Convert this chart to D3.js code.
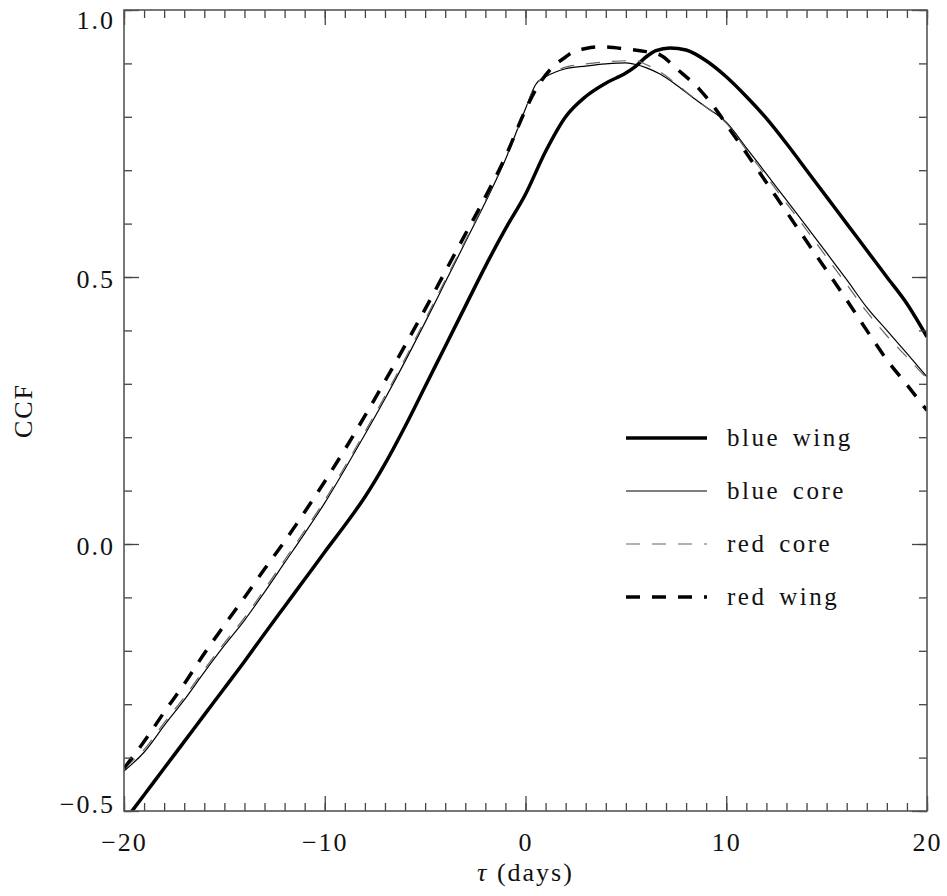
<!DOCTYPE html>
<html>
<head>
<meta charset="utf-8">
<script src="https://cdn.jsdelivr.net/npm/d3@7"></script>
<style>
  body { margin: 0; background: #fff; }
  text { font-family: "Liberation Serif", "DejaVu Serif", serif; fill: #111; }
</style>
</head>
<body>
<svg id="chart" width="947" height="896"></svg>
<script>
// lag in days
var blueWingLag = [-20, -19, -18, -17, -16, -15, -14, -13, -12, -11, -10, -9, -8, -7, -6, -5, -4, -3, -2, -1, 0, 1, 2, 3, 4, 5, 5.5, 6, 6.5, 7.2, 8, 9, 10, 11, 12, 13, 14, 15, 16, 17, 18, 19, 20];
var blueWing = [-0.52, -0.47, -0.42, -0.37, -0.32, -0.27, -0.22, -0.168, -0.117, -0.066, -0.015, 0.035, 0.088, 0.15, 0.22, 0.295, 0.37, 0.445, 0.52, 0.59, 0.655, 0.735, 0.80, 0.838, 0.863, 0.882, 0.895, 0.912, 0.924, 0.929, 0.925, 0.905, 0.875, 0.838, 0.797, 0.75, 0.70, 0.65, 0.60, 0.55, 0.50, 0.45, 0.388];

var coreLag = [-20, -19, -18, -17, -16, -15, -14, -13, -12, -11, -10, -9, -8, -7, -6, -5, -4, -3, -2, -1, 0, 0.5, 1, 1.5, 2, 3, 4, 5, 5.5, 6, 6.7, 7.5, 8.3, 9, 10, 11, 12, 13, 14, 15, 16, 17, 18, 19, 20];
var blueCore = [-0.425, -0.39, -0.34, -0.292, -0.24, -0.19, -0.143, -0.09, -0.035, 0.02, 0.077, 0.14, 0.205, 0.272, 0.342, 0.415, 0.49, 0.565, 0.64, 0.72, 0.815, 0.86, 0.875, 0.884, 0.89, 0.895, 0.899, 0.901, 0.898, 0.892, 0.88, 0.86, 0.837, 0.818, 0.79, 0.742, 0.693, 0.644, 0.595, 0.545, 0.495, 0.443, 0.40, 0.357, 0.313];
var redCore = [-0.42, -0.385, -0.335, -0.287, -0.235, -0.185, -0.138, -0.085, -0.03, 0.025, 0.082, 0.145, 0.21, 0.277, 0.347, 0.42, 0.494, 0.568, 0.643, 0.722, 0.815, 0.86, 0.876, 0.886, 0.893, 0.899, 0.903, 0.905, 0.905, 0.898, 0.884, 0.862, 0.838, 0.818, 0.788, 0.738, 0.688, 0.638, 0.588, 0.537, 0.486, 0.435, 0.39, 0.35, 0.31];

var redWingLag = [-20, -19, -18, -17, -16, -15, -14, -13, -12, -11, -10, -9, -8, -7, -6, -5, -4, -3, -2, -1, 0, 0.5, 1, 1.35, 2, 2.34, 3, 3.7, 5, 6, 6.7, 7.5, 8.7, 9.5, 10, 11, 12, 13, 14, 15, 16, 17, 18, 19, 20];
var redWing = [-0.42, -0.37, -0.315, -0.262, -0.205, -0.152, -0.10, -0.047, 0.005, 0.06, 0.117, 0.177, 0.24, 0.305, 0.372, 0.44, 0.51, 0.58, 0.65, 0.725, 0.813, 0.85, 0.878, 0.893, 0.912, 0.921, 0.928, 0.931, 0.927, 0.922, 0.916, 0.891, 0.85, 0.813, 0.786, 0.732, 0.677, 0.622, 0.567, 0.512, 0.457, 0.40, 0.345, 0.298, 0.25];

var xMajor = [-20, -10, 0, 10, 20];
var yMajor = [-0.5, 0.0, 0.5, 1.0];

var series = [
  { name: 'blue wing', x: blueWingLag, y: blueWing, width: 3.5, dash: null, color: '#000' },
  { name: 'blue core', x: coreLag, y: blueCore, width: 1.2, dash: null, color: '#000' },
  { name: 'red core', x: coreLag, y: redCore, width: 1.2, dash: '14,12', color: '#666' },
  { name: 'red wing', x: redWingLag, y: redWing, width: 3.5, dash: '14,12', color: '#000' }
];

var svg = d3.select('#chart');
var plotLeft = 124, plotRight = 927, plotTop = 10, plotBottom = 811;

var x = d3.scaleLinear().domain([-20, 20]).range([plotLeft, plotRight]);
var y = d3.scaleLinear().domain([-0.5, 1.0]).range([plotBottom, plotTop]);

svg.append('clipPath').attr('id', 'plotclip')
  .append('rect')
  .attr('x', plotLeft).attr('y', plotTop)
  .attr('width', plotRight - plotLeft).attr('height', plotBottom - plotTop);

var lineGen = d3.line()
  .x(function(d) { return x(d[0]); })
  .y(function(d) { return y(d[1]); })
  .curve(d3.curveMonotoneX);

var plot = svg.append('g').attr('clip-path', 'url(#plotclip)');

series.forEach(function(s) {
  plot.append('path')
    .datum(d3.zip(s.x, s.y))
    .attr('d', lineGen)
    .style('fill', 'none')
    .style('stroke', s.color)
    .style('stroke-width', s.width)
    .style('stroke-dasharray', s.dash);
});

// axes: major and minor ticks pointing inward on all four sides
var tickColor = '#444';
function styleAxis(g) {
  g.select('.domain').remove();
  g.selectAll('line').style('stroke', tickColor).style('stroke-width', 1.3);
  g.selectAll('text').style('font-size', '26px').style('letter-spacing', '2px')
    .style('font-family', '"Liberation Serif", serif').attr('fill', '#111');
}

var xMinor = d3.range(-20, 21, 1);
var yMinor = d3.range(-5, 11, 1).map(function(v) { return v / 10; });

svg.append('g').attr('transform', 'translate(0,' + plotBottom + ')')
  .call(d3.axisBottom(x).tickValues(xMinor).tickSize(-8).tickFormat(''))
  .call(styleAxis);
svg.append('g').attr('transform', 'translate(0,' + plotBottom + ')')
  .call(d3.axisBottom(x).tickValues(xMajor).tickSize(-15).tickPadding(20).tickFormat(d3.format('d')))
  .call(styleAxis)
  .selectAll('text').attr('y', 31).attr('dy', '0.35em');

svg.append('g').attr('transform', 'translate(0,' + plotTop + ')')
  .call(d3.axisTop(x).tickValues(xMinor).tickSize(-8).tickFormat(''))
  .call(styleAxis);
svg.append('g').attr('transform', 'translate(0,' + plotTop + ')')
  .call(d3.axisTop(x).tickValues(xMajor).tickSize(-15).tickFormat(''))
  .call(styleAxis);

svg.append('g').attr('transform', 'translate(' + plotLeft + ',0)')
  .call(d3.axisLeft(y).tickValues(yMinor).tickSize(-8).tickFormat(''))
  .call(styleAxis);
svg.append('g').attr('transform', 'translate(' + plotLeft + ',0)')
  .call(d3.axisLeft(y).tickValues(yMajor).tickSize(-15).tickPadding(9).tickFormat(d3.format('.1f')))
  .call(styleAxis)
  .selectAll('text')
  .attr('dy', function(d) {
    // end labels are kept inside the frame height
    if (d === 1.0) return '0.7em';
    if (d === -0.5) return '0.05em';
    return '0.4em';
  });

svg.append('g').attr('transform', 'translate(' + plotRight + ',0)')
  .call(d3.axisRight(y).tickValues(yMinor).tickSize(-8).tickFormat(''))
  .call(styleAxis);
svg.append('g').attr('transform', 'translate(' + plotRight + ',0)')
  .call(d3.axisRight(y).tickValues(yMajor).tickSize(-15).tickFormat(''))
  .call(styleAxis);

// frame
svg.append('rect')
  .attr('x', plotLeft).attr('y', plotTop)
  .attr('width', plotRight - plotLeft).attr('height', plotBottom - plotTop)
  .style('fill', 'none').style('stroke', '#555').style('stroke-width', 1.6);

// axis titles
svg.append('text')
  .attr('x', (plotLeft + plotRight) / 2)
  .attr('y', 872)
  .attr('dy', '0.35em')
  .attr('text-anchor', 'middle')
  .style('font-size', '26px')
  .style('letter-spacing', '2px')
  .html('<tspan font-style="italic">τ</tspan> (days)');

svg.append('text')
  .attr('transform', 'translate(23,' + (plotTop + plotBottom) / 2 + ') rotate(-90)')
  .attr('dy', '0.35em')
  .attr('text-anchor', 'middle')
  .style('font-size', '26px')
  .style('letter-spacing', '2px')
  .text('CCF');

// legend
var legend = svg.append('g').attr('transform', 'translate(626,438)');
var rows = legend.selectAll('g.row')
  .data(series)
  .enter()
  .append('g')
  .attr('class', 'row')
  .attr('transform', function(d, i) { return 'translate(0,' + (i * 53) + ')'; });

rows.append('line')
  .attr('x1', 0).attr('x2', 81)
  .style('stroke', function(d) { return d.color; })
  .style('stroke-width', function(d) { return d.width; })
  .style('stroke-dasharray', function(d) { return d.dash; });

rows.append('text')
  .attr('x', 101)
  .attr('dy', '0.32em')
  .style('font-size', '25px')
  .style('letter-spacing', '2.5px')
  .style('word-spacing', '4px')
  .text(function(d) { return d.name; });
</script>
</body>
</html>
